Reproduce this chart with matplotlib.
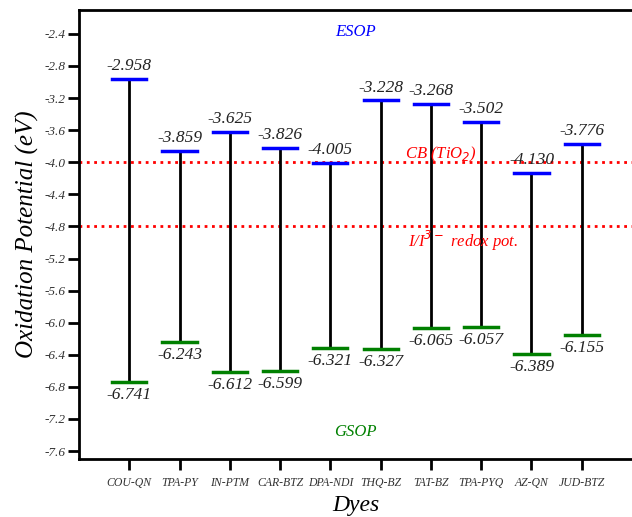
import matplotlib.pyplot as plt

dyes = ["COU-QN", "TPA-PY", "IN-PTM", "CAR-BTZ", "DPA-NDI",
        "THQ-BZ", "TAT-BZ", "TPA-PYQ", "AZ-QN", "JUD-BTZ"]
esop = [-2.958, -3.859, -3.625, -3.826, -4.005, -3.228, -3.268, -3.502, -4.130, -3.776]
gsop = [-6.741, -6.243, -6.612, -6.599, -6.321, -6.327, -6.065, -6.057, -6.389, -6.155]
cb_tio2 = -4.0
redox = -4.8
yticks = [-2.4, -2.8, -3.2, -3.6, -4.0, -4.4, -4.8, -5.2, -5.6, -6.0, -6.4, -6.8, -7.2, -7.6]

plt.rcParams['font.family'] = ['Liberation Serif', 'DejaVu Serif']
plt.rcParams['font.style'] = 'italic'

fig = plt.figure(figsize=(6.32, 5.17), dpi=100)
ax = fig.add_axes([0.125, 0.112, 0.875, 0.869])

x = list(range(1, len(dyes) + 1))
hw = 0.34
for xi, e, g in zip(x, esop, gsop):
    ax.plot([xi, xi], [g, e], color='black', lw=2, zorder=2)
    ax.plot([xi - hw, xi + hw], [e, e], color='blue', lw=2.5, zorder=3)
    ax.plot([xi - hw, xi + hw], [g, g], color='green', lw=2.5, zorder=3)
    ax.text(xi, e + 0.06, f"{e:.3f}", ha='center', va='bottom', fontsize=12.5, color='#222222')
    ax.text(xi, g - 0.06, f"{g:.3f}", ha='center', va='top', fontsize=12.5, color='#222222')

ax.axhline(cb_tio2, color='red', ls=':', lw=2, zorder=1)
ax.axhline(redox, color='red', ls=':', lw=2, zorder=1)

ax.text(5.5, -2.38, "ESOP", color='blue', fontsize=12, ha='center', va='center')
ax.text(5.5, -7.36, "GSOP", color='green', fontsize=12, ha='center', va='center')
ax.text(7.2, -3.9, r"CB (TiO$_{2}$)", color='red', fontsize=12, ha='center', va='center')
ax.text(6.55, -4.98, r"I/I$^{3-}$ redox pot.", color='red', fontsize=12, ha='left', va='center')

ax.set_xlim(0, 11)
ax.set_ylim(-7.7, -2.1)
ax.set_xticks(x)
ax.set_xticklabels(dyes, fontsize=8.5, color='#333333')
ax.set_yticks(yticks)
ax.set_yticklabels([f"{t:.1f}" for t in yticks], fontsize=9.5, color='#333333')
ax.tick_params(axis='both', direction='out', width=2, length=8)
ax.tick_params(axis='x', pad=5)
ax.tick_params(axis='y', pad=2)
ax.spines['right'].set_visible(False)
for s in ax.spines.values():
    s.set_linewidth(2)

ax.set_xlabel("Dyes", fontsize=17, labelpad=4)
ax.set_ylabel("Oxidation Potential (eV)", fontsize=18)

fig.savefig("out.png", dpi=100)
